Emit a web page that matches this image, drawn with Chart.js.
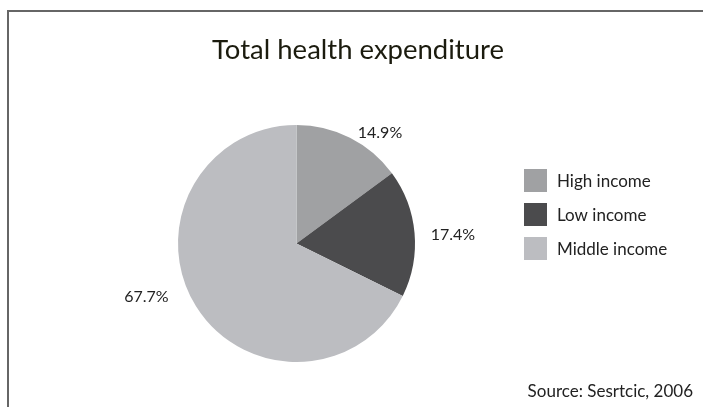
<!DOCTYPE html>
<html lang="en">
<head>
    <meta charset="UTF-8">
    <title>Total health expenditure</title>
    <script src="https://cdn.jsdelivr.net/npm/chart.js"></script>
    <style>
        body {
            margin: 0;
            padding: 0;
            background-color: #ffffff;
        }
        #grafico {
            display: block;
        }
    </style>
</head>
<body>
    <canvas id="grafico" width="703" height="407"></canvas>

    <script>
        const categories = ['High income', 'Low income', 'Middle income'];
        const shares = [14.9, 17.4, 67.7];
        const sliceColors = ['#a0a1a3', '#4b4b4d', '#bcbdc1'];
        const valueLabels = shares.map(v => v.toFixed(1) + '%');

        const titleText = 'Total health expenditure';
        const sourceText = 'Source: Sesrtcic, 2006';

        // hand placement of the outside labels, relative to the slice anchor
        const labelNudge = [[21, 18], [18.5, 9], [-32.5, -15]];

        const fontFamily = 'Lato, "Open Sans", sans-serif';

        // frame, title, value labels, legend and source note
        const decoracao = {
            id: 'decoracao',
            beforeDraw(chart) {
                const ctx = chart.ctx;
                ctx.save();
                ctx.fillStyle = '#ffffff';
                ctx.fillRect(0, 0, chart.width, chart.height);
                ctx.strokeStyle = '#666666';
                ctx.lineWidth = 2;
                ctx.beginPath();
                ctx.moveTo(8, chart.height);
                ctx.lineTo(8, 11);
                ctx.lineTo(chart.width, 11);
                ctx.stroke();
                ctx.restore();
            },
            afterDraw(chart) {
                const ctx = chart.ctx;
                ctx.save();

                ctx.fillStyle = '#1b1b0e';
                ctx.font = '27.5px ' + fontFamily;
                ctx.textAlign = 'center';
                ctx.textBaseline = 'alphabetic';
                ctx.fillText(titleText, 358, 59);

                // percentage labels outside each slice
                ctx.fillStyle = '#222222';
                ctx.font = '16px ' + fontFamily;
                const arcs = chart.getDatasetMeta(0).data;
                arcs.forEach((arc, i) => {
                    const p = arc.getProps(['x', 'y', 'startAngle', 'endAngle', 'outerRadius'], true);
                    const mid = (p.startAngle + p.endAngle) / 2;
                    const dist = p.outerRadius + 20;
                    const x = p.x + Math.cos(mid) * dist + labelNudge[i][0];
                    const y = p.y + Math.sin(mid) * dist + labelNudge[i][1];
                    ctx.fillText(valueLabels[i], x, y);
                });

                // legend
                ctx.font = '17px ' + fontFamily;
                ctx.textAlign = 'left';
                ctx.textBaseline = 'middle';
                categories.forEach((nome, i) => {
                    const cy = 180.5 + i * 34;
                    ctx.fillStyle = sliceColors[i];
                    ctx.fillRect(524, cy - 11.5, 23, 23);
                    ctx.fillStyle = '#222222';
                    ctx.fillText(nome, 557, cy + 1);
                });

                ctx.textAlign = 'right';
                ctx.textBaseline = 'alphabetic';
                ctx.fillText(sourceText, 693, 397);
                ctx.restore();
            }
        };

        new Chart(document.getElementById('grafico'), {
            type: 'pie',
            data: {
                labels: categories,
                datasets: [{
                    data: shares,
                    backgroundColor: sliceColors,
                    borderWidth: 0,
                    hoverOffset: 0
                }]
            },
            options: {
                responsive: false,
                animation: false,
                layout: {
                    padding: { top: 125, left: 178, right: 288, bottom: 45 }
                },
                plugins: {
                    legend: { display: false },
                    title: { display: false },
                    tooltip: { enabled: false }
                }
            },
            plugins: [decoracao]
        });
    </script>
</body>
</html>
